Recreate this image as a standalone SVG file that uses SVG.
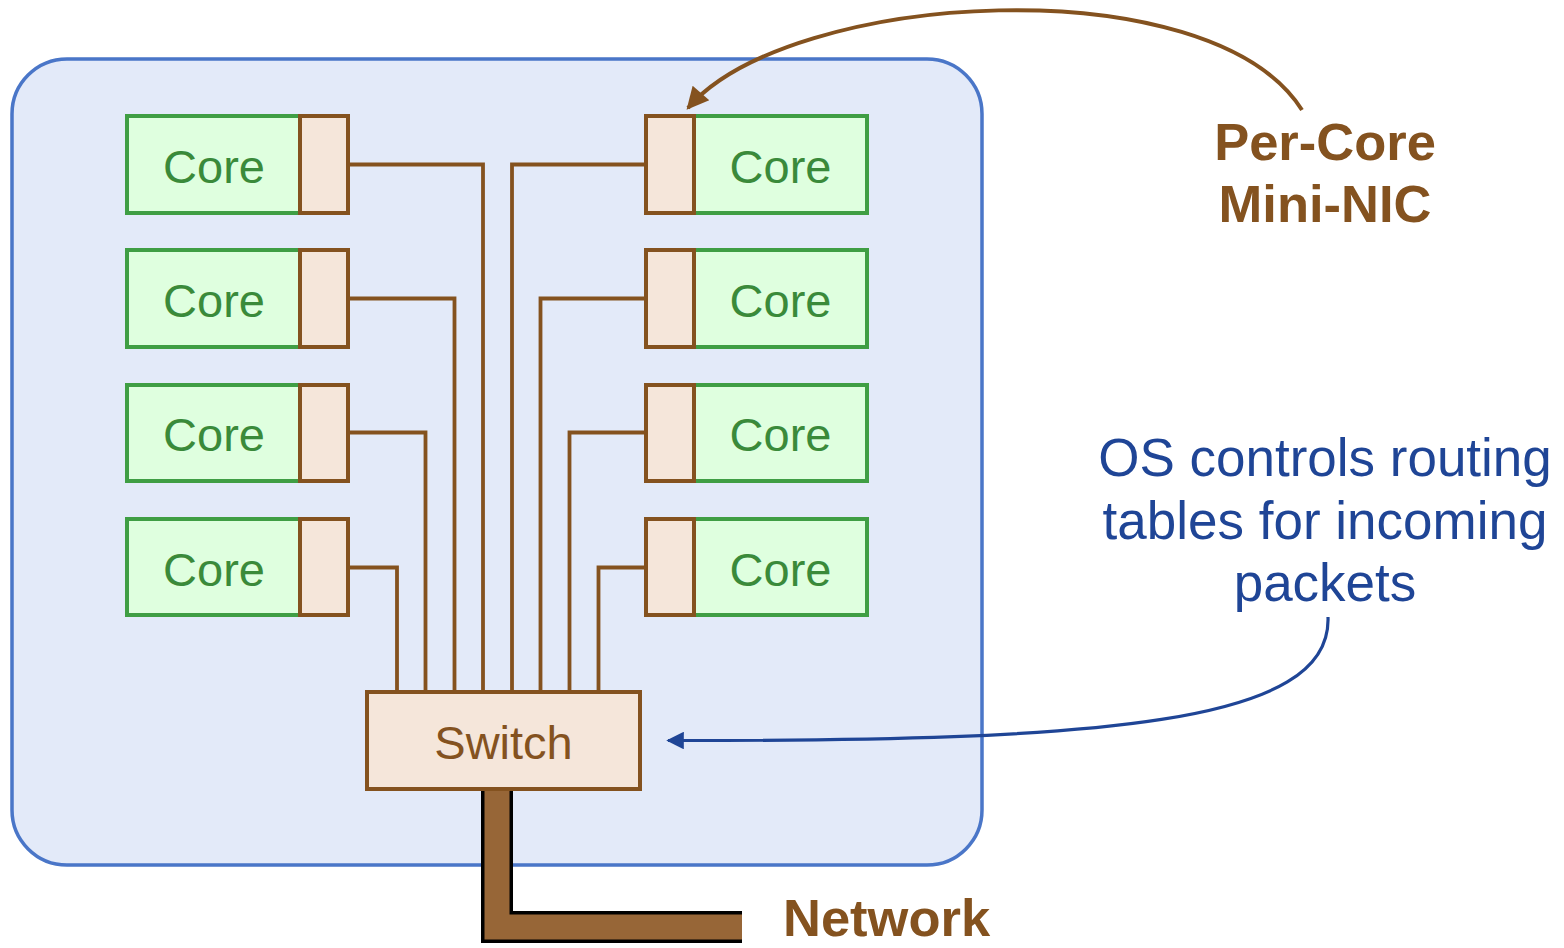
<svg xmlns="http://www.w3.org/2000/svg" width="1564" height="948" viewBox="0 0 1564 948">
  <style>
    .core { fill: #dfffdf; stroke: #3f9e44; stroke-width: 4; }
    .nic { fill: #f5e6da; stroke: #84521f; stroke-width: 4; }
    .core-label { font-family: "Liberation Sans", Arial, sans-serif; font-size: 47px; fill: #3a8a3a; text-anchor: middle; }
    .switch-label { font-family: "Liberation Sans", Arial, sans-serif; font-size: 47px; fill: #84521f; text-anchor: middle; }
    .wire { fill: none; stroke: #84521f; stroke-width: 3.8; stroke-linejoin: miter; }
    .callout-brown { font-family: "Liberation Sans", Arial, sans-serif; font-size: 52.5px; font-weight: bold; fill: #84521f; text-anchor: middle; }
    .callout-blue { font-family: "Liberation Sans", Arial, sans-serif; font-size: 53px; fill: #1f4596; text-anchor: middle; }
  </style>
  <defs>
    <marker id="arrow-brown" viewBox="0 0 10 10" refX="9" refY="5" markerWidth="6" markerHeight="5.5" markerUnits="strokeWidth" orient="auto">
      <path d="M0,0 L10,5 L0,10 z" fill="#84521f"/>
    </marker>
    <marker id="arrow-blue" viewBox="0 0 10 10" refX="9" refY="5" markerWidth="8.5" markerHeight="5.5" markerUnits="strokeWidth" orient="auto">
      <path d="M0,0 L10,5 L0,10 z" fill="#1f4596"/>
    </marker>
  </defs>

  <rect width="1564" height="948" fill="#ffffff"/>

  <!-- chip outline -->
  <g id="chip">
    <rect x="12" y="59" width="970" height="806" rx="55" ry="55" fill="#e3eaf9" stroke="#4a76c8" stroke-width="3.5"/>
  </g>

  <!-- network cable -->
  <g id="network-cable">
    <path d="M497,789 L497,927 L742,927" fill="none" stroke="#000000" stroke-width="32" stroke-linejoin="miter"/>
    <path d="M497,789 L497,927 L742,927" fill="none" stroke="#976637" stroke-width="25" stroke-linejoin="miter"/>
  </g>

  <!-- wires from each mini-NIC to the switch, plus the two callout arrows -->
  <g id="connectors">
    <path class="wire" d="M348,164.5 L483,164.5 L483,692"/>
    <path class="wire" d="M348,298.5 L454.5,298.5 L454.5,692"/>
    <path class="wire" d="M348,432.5 L425.5,432.5 L425.5,692"/>
    <path class="wire" d="M348,567.5 L397,567.5 L397,692"/>
    <path class="wire" d="M646,164.5 L512,164.5 L512,692"/>
    <path class="wire" d="M646,298.5 L540.5,298.5 L540.5,692"/>
    <path class="wire" d="M646,432.5 L569.5,432.5 L569.5,692"/>
    <path class="wire" d="M646,567.5 L598.5,567.5 L598.5,692"/>
    <path d="M1302,110 C1210,-35 790,-10 688,108" fill="none" stroke="#84521f" stroke-width="4" marker-end="url(#arrow-brown)"/>
    <path d="M1328,617 C1332,725 1100,741 668,740.5" fill="none" stroke="#1f4596" stroke-width="3.2" marker-end="url(#arrow-blue)"/>
  </g>

  <!-- left column of cores -->
  <g id="core-l1">
    <rect class="core" x="127" y="116" width="173" height="97"/>
    <rect class="nic" x="300" y="116" width="48" height="97"/>
    <text class="core-label" x="214" y="183">Core</text>
  </g>
  <g id="core-l2">
    <rect class="core" x="127" y="250" width="173" height="97"/>
    <rect class="nic" x="300" y="250" width="48" height="97"/>
    <text class="core-label" x="214" y="317">Core</text>
  </g>
  <g id="core-l3">
    <rect class="core" x="127" y="385" width="173" height="96"/>
    <rect class="nic" x="300" y="385" width="48" height="96"/>
    <text class="core-label" x="214" y="451">Core</text>
  </g>
  <g id="core-l4">
    <rect class="core" x="127" y="519" width="173" height="96"/>
    <rect class="nic" x="300" y="519" width="48" height="96"/>
    <text class="core-label" x="214" y="586">Core</text>
  </g>

  <!-- right column of cores -->
  <g id="core-r1">
    <rect class="core" x="694" y="116" width="173" height="97"/>
    <rect class="nic" x="646" y="116" width="48" height="97"/>
    <text class="core-label" x="780.5" y="183">Core</text>
  </g>
  <g id="core-r2">
    <rect class="core" x="694" y="250" width="173" height="97"/>
    <rect class="nic" x="646" y="250" width="48" height="97"/>
    <text class="core-label" x="780.5" y="317">Core</text>
  </g>
  <g id="core-r3">
    <rect class="core" x="694" y="385" width="173" height="96"/>
    <rect class="nic" x="646" y="385" width="48" height="96"/>
    <text class="core-label" x="780.5" y="451">Core</text>
  </g>
  <g id="core-r4">
    <rect class="core" x="694" y="519" width="173" height="96"/>
    <rect class="nic" x="646" y="519" width="48" height="96"/>
    <text class="core-label" x="780.5" y="586">Core</text>
  </g>

  <!-- switch -->
  <g id="switch">
    <rect class="nic" x="367" y="692" width="273" height="97"/>
    <text class="switch-label" x="503.5" y="759">Switch</text>
  </g>

  <!-- labels -->
  <g id="label-mini-nic">
    <text class="callout-brown" x="1325" y="160">Per-Core</text>
    <text class="callout-brown" x="1325" y="222">Mini-NIC</text>
  </g>
  <g id="label-os">
    <text class="callout-blue" x="1325" y="476">OS controls routing</text>
    <text class="callout-blue" x="1325" y="539">tables for incoming</text>
    <text class="callout-blue" x="1325" y="601">packets</text>
  </g>
  <g id="label-network">
    <text class="callout-brown" x="783" y="936" style="text-anchor:start">Network</text>
  </g>
</svg>
